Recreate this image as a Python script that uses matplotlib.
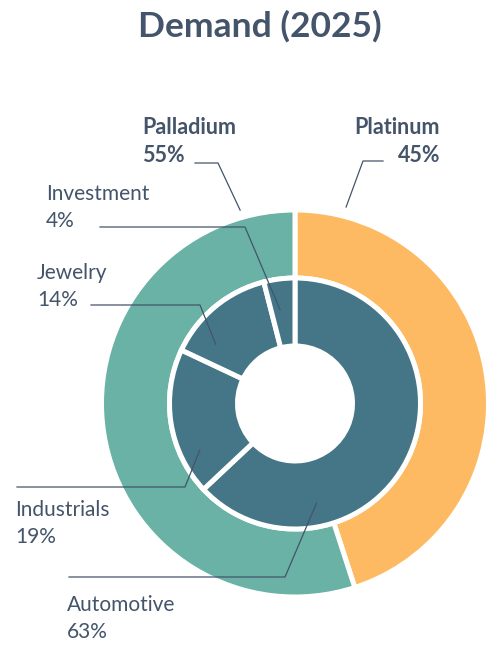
import numpy as np
import matplotlib
matplotlib.use("Agg")
import matplotlib.pyplot as plt

# outer ring: metal share of demand
metals = ["Platinum", "Palladium"]
metal_share = [45, 55]
# inner ring: demand by use
uses = ["Automotive", "Industrials", "Jewelry", "Investment"]
use_share = [63, 19, 14, 4]

TEXT = "#44546A"
ORANGE = "#FDBA63"
GREEN = "#69B2A5"
TEAL = "#457688"

W, H = 487, 648
fig = plt.figure(figsize=(W / 100, H / 100), dpi=100)
ax = fig.add_axes([0, 0, 1, 1])

cx, cy = 295, H - 403.5   # pie centre in pixel space (y up)

ax.pie(metal_share, colors=[ORANGE, GREEN], startangle=90, counterclock=False,
       radius=193.5, center=(cx, cy),
       wedgeprops=dict(width=68, edgecolor="white", linewidth=3.6))
ax.pie(use_share, colors=[TEAL] * 4, startangle=90, counterclock=False,
       radius=125.5, center=(cx, cy),
       wedgeprops=dict(width=68, edgecolor="white", linewidth=3.6))

ax.set_xlim(0, W)
ax.set_ylim(0, H)
ax.set_aspect("equal")
ax.axis("off")


def tip(shares, i, frac, r):
    # point inside wedge i, frac along its span (clockwise from 12 o'clock)
    start = sum(shares[:i]) / sum(shares) * 360
    ang = np.radians(start + frac * shares[i] / sum(shares) * 360)
    return cx + r * np.sin(ang), cy + r * np.cos(ang)


font = "Lato"
fs = 15

# label layout: (text x, text y, align, elbow start x, elbow x, elbow y, tip)
outer_lbl = [
    (440, 128, "right", 383, 363, 161, tip(metal_share, 0, 0.09, 203)),
    (142, 128, "left", 195, 218, 163, tip(metal_share, 1, 0.92, 201)),
]
for (tx, ty, ha, sx, ex, ey, (px, py)), name, v in zip(outer_lbl, metals, metal_share):
    ax.text(tx, H - ty, name, ha=ha, va="center", fontsize=fs + 0.5, fontweight="bold",
            color=TEXT, family=font)
    ax.text(tx, H - ty - 27, f"{v}%", ha=ha, va="center", fontsize=fs + 0.5,
            fontweight="bold", color=TEXT, family=font)
    ax.plot([sx, ex, px], [H - ey, H - ey, py], color=TEXT, lw=0.9)

inner_lbl = [
    (67, 605, 69, 285, 577, 0.74, 102),
    (15, 510, 17, 185, 487, 0.25, 106),
    (37, 273, 91, 200, 305, 0.23, 99),
    (46, 194, 100, 245, 227, 0.37, 95),
]
for i, ((tx, ty, sx, ex, ey, fr, r), name, v) in enumerate(zip(inner_lbl, uses, use_share)):
    px, py = tip(use_share, i, fr, r)
    ax.text(tx, H - ty, name, ha="left", va="center", fontsize=fs, color=TEXT, family=font)
    ax.text(tx, H - ty - 27, f"{v}%", ha="left", va="center", fontsize=fs,
            color=TEXT, family=font)
    ax.plot([sx, ex, px], [H - ey, H - ey, py], color=TEXT, lw=0.9)

ax.text(260, H - 26, "Demand (2025)", ha="center", va="center", fontsize=25.5,
        fontweight="bold", color=TEXT, family=font)

fig.savefig("out.png", dpi=100, facecolor="white")
